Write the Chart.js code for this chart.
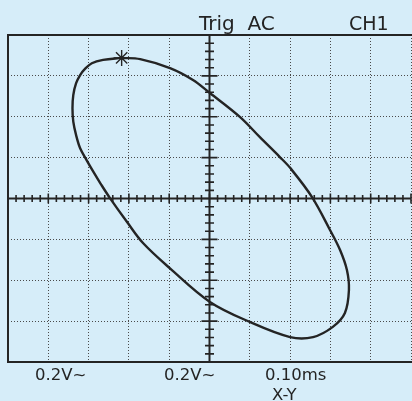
<!DOCTYPE html>
<html>
<head>
<meta charset="utf-8">
<script src="https://cdn.jsdelivr.net/npm/chart.js@4/dist/chart.umd.min.js"></script>
<style>
  html, body { margin: 0; padding: 0; background: #d6edf9; }
  #wrap { width: 412px; height: 401px; position: relative; }
</style>
</head>
<body>
<div id="wrap"><canvas id="scope" width="412" height="401"></canvas></div>
<script>
// X-Y trace, in screen divisions (10 x 8 grid, origin at centre)
var traceX = [-2.18, -1.72, -0.98, -0.41, 0.01, 0.76, 1.25, 1.74, 2.00, 2.54, 2.99, 3.24, 3.41, 3.46,
              3.36, 3.06, 2.57, 2.00, 1.00, 0.01, -0.98, -1.65, -2.05, -2.47, -2.70, -2.88, -3.05,
              -3.21, -3.31, -3.38, -3.40, -3.38, -3.31, -3.21, -3.09, -2.92, -2.64, -2.18];
var traceY = [3.44, 3.41, 3.19, 2.90, 2.58, 1.99, 1.50, 1.02, 0.75, 0.04, -0.77, -1.26, -1.75, -2.24,
              -2.80, -3.14, -3.39, -3.39, -3.02, -2.53, -1.71, -1.09, -0.57, 0.01, 0.36, 0.65, 0.94,
              1.23, 1.55, 1.88, 2.21, 2.53, 2.82, 3.02, 3.17, 3.31, 3.39, 3.44];

// cursor marker
var markerX = [-2.18];
var markerY = [3.44];

// screen readouts
var topLabels = ["Trig  AC", "CH1"];
var bottomLabels = ["0.2V~", "0.2V~", "0.10ms", "X-Y"];

var ink = "#242424";

function toPoints(xs, ys) {
  return xs.map(function (x, i) { return { x: x, y: ys[i] }; });
}

// frame, centre graticule with tick marks, and readout text
var scopePlugin = {
  id: "scope",
  beforeDatasetsDraw: function (chart) {
    var ctx = chart.ctx, xs = chart.scales.x, ys = chart.scales.y;
    var a = chart.chartArea;
    var cx = xs.getPixelForValue(0), cy = ys.getPixelForValue(0);
    ctx.save();
    ctx.strokeStyle = ink;
    ctx.lineWidth = 2;
    ctx.beginPath();
    ctx.moveTo(cx, a.top); ctx.lineTo(cx, a.bottom);
    ctx.moveTo(a.left, cy); ctx.lineTo(a.right, cy);
    ctx.stroke();
    ctx.lineWidth = 1.6;
    ctx.beginPath();
    for (var i = -25; i <= 25; i++) {
      var px = xs.getPixelForValue(i / 5);
      var h = i % 5 === 0 ? 5 : 3.5;
      ctx.moveTo(px, cy - h); ctx.lineTo(px, cy + h);
    }
    for (var j = -20; j <= 20; j++) {
      var py = ys.getPixelForValue(j / 5);
      var w = j % 5 === 0 ? 8 : 4.5;
      ctx.moveTo(cx - w, py); ctx.lineTo(cx + w, py);
    }
    ctx.stroke();
    ctx.restore();
  },
  afterDraw: function (chart) {
    var ctx = chart.ctx, a = chart.chartArea;
    ctx.save();
    ctx.strokeStyle = ink;
    ctx.lineWidth = 2;
    ctx.beginPath();
    ctx.moveTo(chart.width, a.top); ctx.lineTo(a.left, a.top);
    ctx.lineTo(a.left, a.bottom); ctx.lineTo(chart.width, a.bottom);
    ctx.stroke();

    ctx.fillStyle = ink;
    ctx.textBaseline = "alphabetic";
    ctx.font = "20px 'DejaVu Sans'";
    ctx.fillText(topLabels[0], 199, 29.5);
    ctx.font = "19px 'DejaVu Sans'";
    ctx.fillText(topLabels[1], 349, 29.5);
    ctx.font = "16.5px 'DejaVu Sans'";
    ctx.fillText(bottomLabels[0], 35, 380);
    ctx.fillText(bottomLabels[1], 164, 380);
    ctx.fillText(bottomLabels[2], 265, 380);
    ctx.fillText(bottomLabels[3], 272, 400);
    ctx.restore();
  }
};

var chart = new Chart(document.getElementById("scope").getContext("2d"), {
  type: "scatter",
  data: {
    datasets: [
      {
        label: "trace",
        data: toPoints(traceX, traceY),
        showLine: true,
        tension: 0.35,
        borderColor: ink,
        borderWidth: 2.4,
        pointRadius: 0,
        fill: false
      },
      {
        label: "marker",
        data: toPoints(markerX, markerY),
        pointStyle: "star",
        pointRadius: 8,
        borderColor: ink,
        borderWidth: 1.4,
        backgroundColor: ink
      }
    ]
  },
  options: {
    responsive: false,
    animation: false,
    layout: { autoPadding: false, padding: { left: 8, right: 1, top: 35, bottom: 39 } },
    plugins: { legend: { display: false }, tooltip: { enabled: false } },
    scales: {
      x: {
        type: "linear", min: -5, max: 5,
        ticks: { display: false, stepSize: 1 },
        grid: { color: "#4a4a4a", lineWidth: 1, drawTicks: false },
        border: { display: false, dash: [1, 2] }
      },
      y: {
        type: "linear", min: -4, max: 4,
        ticks: { display: false, stepSize: 1 },
        grid: { color: "#4a4a4a", lineWidth: 1, drawTicks: false },
        border: { display: false, dash: [1, 2] }
      }
    }
  },
  plugins: [scopePlugin]
});
</script>
</body>
</html>
